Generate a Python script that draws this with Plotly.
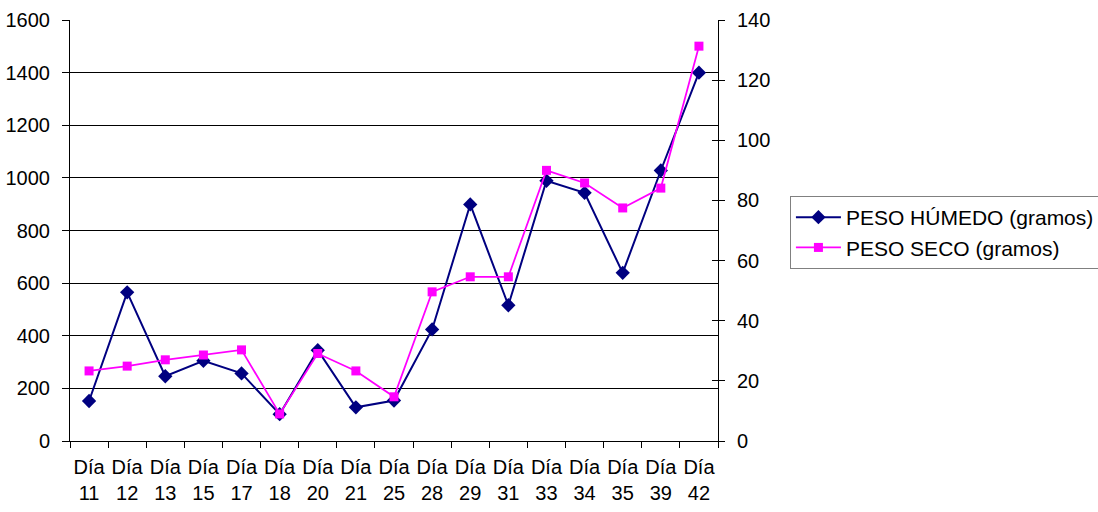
import plotly.graph_objects as go

# Días de muestreo y pesos medidos
dias = ["11", "12", "13", "15", "17", "18", "20", "21", "25", "28", "29", "31", "33", "34", "35", "39", "42"]
peso_humedo = [152, 565, 246, 305, 257, 102, 345, 128, 154, 424, 899, 516, 989, 943, 639, 1028, 1400]
peso_seco = [23.3, 24.9, 27.0, 28.6, 30.3, 9.0, 29.1, 23.3, 14.7, 49.6, 54.6, 54.6, 90.0, 85.8, 77.5, 84.1, 131.3]

categorias = [f"Día<br>{d}" for d in dias]

fig = go.Figure()
fig.add_trace(go.Scatter(
    x=categorias, y=peso_humedo, name="PESO HÚMEDO (gramos)",
    mode="lines+markers",
    line=dict(color="#000080", width=2),
    marker=dict(symbol="diamond", size=11, color="#000080"),
))
fig.add_trace(go.Scatter(
    x=categorias, y=peso_seco, name="PESO SECO (gramos)",
    mode="lines+markers", yaxis="y2",
    line=dict(color="#FF00FF", width=1.75),
    marker=dict(symbol="square", size=9, color="#FF00FF"),
))

fnt = dict(family="Liberation Sans, Arial, sans-serif", size=20, color="black")

fig.update_layout(
    width=1098, height=512,
    margin=dict(l=70, r=380, t=20, b=71, autoexpand=False),
    paper_bgcolor="white", plot_bgcolor="white",
    font=fnt,
    xaxis=dict(
        type="category", tickson="boundaries", ticks="outside", ticklen=6,
        tickcolor="black", showline=True, linecolor="black", linewidth=1,
        showgrid=False, tickfont=fnt, range=[-0.5, 16.5],
        tickangle=0, automargin=False, ticklabelstandoff=8,
    ),
    yaxis=dict(
        range=[0, 1600], dtick=200, ticks="outside", ticklen=7, tickcolor="black",
        showline=True, linecolor="black", linewidth=1,
        showgrid=True, gridcolor="black", gridwidth=1, zeroline=False,
        tickfont=fnt, ticklabelstandoff=8, automargin=False,
    ),
    yaxis2=dict(
        range=[0, 140], dtick=20, ticks="outside", ticklen=6, tickcolor="black",
        showline=True, linecolor="black", linewidth=1,
        showgrid=False, zeroline=False, overlaying="y", side="right",
        tickfont=fnt, ticklabelstandoff=8, automargin=False,
    ),
    # inner half of the crossing tick marks on the secondary axis
    yaxis3=dict(
        range=[0, 140], dtick=20, ticks="inside", ticklen=6, tickcolor="black",
        showline=False, showgrid=False, zeroline=False, showticklabels=False,
        overlaying="y", side="right", automargin=False,
    ),
    legend=dict(
        x=1.111, y=0.582, xanchor="left", yanchor="top",
        bordercolor="#808080", borderwidth=1, bgcolor="white",
        font=dict(family="Liberation Sans, Arial, sans-serif", size=21, color="black"),
        tracegroupgap=0, itemwidth=45,
    ),
    showlegend=True,
)

# invisible trace so the third axis is drawn
fig.add_trace(go.Scatter(
    x=categorias, y=[None] * len(categorias), yaxis="y3",
    showlegend=False, hoverinfo="skip", mode="lines",
))

fig.write_html("out.html")
